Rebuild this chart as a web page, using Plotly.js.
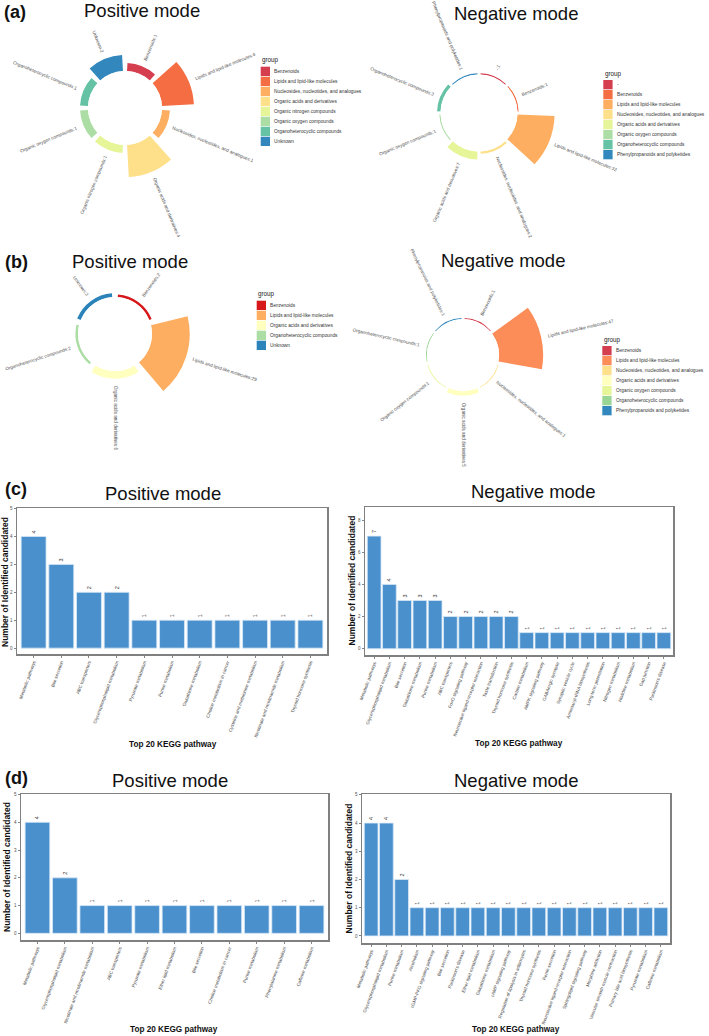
<!DOCTYPE html>
<html><head><meta charset="utf-8">
<script src="https://cdn.plot.ly/plotly-3.0.1.min.js"></script>
<style>html,body{margin:0;padding:0;background:#fff}#chart{width:709px;height:1036px}</style>
</head><body><div id="chart"></div>
<script>
// ---------------- DATA ----------------
const spectral8 = ["#D53E4F","#F46D43","#FDAE61","#FEE08B","#E6F598","#ABDDA4","#66C2A5","#3288BD"];

const aPosGroups = ["Benzenoids","Lipids and lipid-like molecules","Nucleosides, nucleotides, and analogues","Organic acids and derivatives","Organic nitrogen compounds","Organic oxygen compounds","Organoheterocyclic compounds","Unknown"];
const aPosCounts = [1,4,1,4,1,1,1,2];
const aPosColors = spectral8;

const aNegGroups = ["-","Benzenoids","Lipids and lipid-like molecules","Nucleosides, nucleotides, and analogues","Organic acids and derivatives","Organic oxygen compounds","Organoheterocyclic compounds","Phenylpropanoids and polyketides"];
const aNegCounts = [1,1,32,2,7,1,3,1];
const aNegColors = spectral8;

const bPosGroups = ["Benzenoids","Lipids and lipid-like molecules","Organic acids and derivatives","Organoheterocyclic compounds","Unknown"];
const bPosCounts = [2,29,6,2,3];
const bPosColors = ["#D7191C","#FDAE61","#FFFFBF","#ABDDA4","#2B83BA"];

const bNegGroups = ["Benzenoids","Lipids and lipid-like molecules","Nucleosides, nucleotides, and analogues","Organic acids and derivatives","Organic oxygen compounds","Organoheterocyclic compounds","Phenylpropanoids and polyketides"];
const bNegCounts = [1,47,1,5,1,1,1];
const bNegColors = ["#D53E4F","#FC8D59","#FEE08B","#FFFFBF","#E6F598","#99D594","#3288BD"];

const cPosPathways = ["Metabolic pathways","Bile secretion","ABC transporters","Glycerophospholipid metabolism","Pyruvate metabolism","Purine metabolism","Glutathione metabolism","Choline metabolism in cancer","Cysteine and methionine metabolism","Nicotinate and nicotinamide metabolism","Thyroid hormone synthesis"];
const cPosCounts = [4,3,2,2,1,1,1,1,1,1,1];

const cNegPathways = ["Metabolic pathways","Glycerophospholipid metabolism","Bile secretion","Glutathione metabolism","Purine metabolism","ABC transporters","FoxO signaling pathway","Neuroactive ligand-receptor interaction","Taste transduction","Thyroid hormone synthesis","Carbon metabolism","AMPK signaling pathway","GABAergic synapse","Synaptic vesicle cycle","Aminoacyl-tRNA biosynthesis","Long-term potentiation","Nitrogen metabolism","Histidine metabolism","Gap junction","Parkinson's disease"];
const cNegCounts = [7,4,3,3,3,2,2,2,2,2,1,1,1,1,1,1,1,1,1,1];

const dPosPathways = ["Metabolic pathways","Glycerophospholipid metabolism","Nicotinate and nicotinamide metabolism","ABC transporters","Pyruvate metabolism","Ether lipid metabolism","Bile secretion","Choline metabolism in cancer","Purine metabolism","Phenylalanine metabolism","Caffeine metabolism"];
const dPosCounts = [4,2,1,1,1,1,1,1,1,1,1];

const dNegPathways = ["Metabolic pathways","Glycerophospholipid metabolism","Purine metabolism","Alcoholism","cGMP-PKG signaling pathway","Bile secretion","Parkinson's disease","Ether lipid metabolism","Glutathione metabolism","cAMP signaling pathway","Regulation of lipolysis in adipocytes","Thyroid hormone synthesis","Renin secretion","Neuroactive ligand-receptor interaction","Sphingolipid signaling pathway","Morphine addiction","Vascular smooth muscle contraction","Primary bile acid biosynthesis","Pyruvate metabolism","Caffeine metabolism"];
const dNegCounts = [4,4,2,1,1,1,1,1,1,1,1,1,1,1,1,1,1,1,1,1];

// ---------------- BUILD ----------------
const W = 709, H = 1036;
const FONT = 'Liberation Sans, Arial, Helvetica, sans-serif';
const traces = [], shapes = [], annotations = [];
const layout = {width:W, height:H, margin:{l:0,r:0,t:0,b:0}, paper_bgcolor:'#ffffff', plot_bgcolor:'rgba(0,0,0,0)',
  showlegend:false, bargap:0.1, font:{family:FONT, color:'#222'}, hovermode:false};

const cv = document.createElement('canvas').getContext('2d');
function measure(t, size){ cv.font = size + 'px "Liberation Sans", Arial'; return cv.measureText(t).width; }
const X = p => p / W, Y = p => 1 - p / H;

function text(x, y, t, size, opts){
  annotations.push(Object.assign({xref:'paper', yref:'paper', x:X(x), y:Y(y), text:t, showarrow:false,
    xanchor:'center', yanchor:'middle', font:{size:size, color:'#111', family:FONT}}, opts || {}));
}

function addPolar(key, groups, counts, colors, g){
  const n = groups.length, R = g.rh + g.unit * g.vmax;
  layout[key] = {domain:{x:[X(g.cx - R), X(g.cx + R)], y:[Y(g.cy + R), Y(g.cy - R)]}, hole:g.rh / R,
    bgcolor:'rgba(0,0,0,0)',
    radialaxis:{visible:false, range:[0, g.vmax]},
    angularaxis:{visible:false, direction:'clockwise', rotation:90}};
  const theta = groups.map((_, i) => (i + 0.5) * 360 / n);
  traces.push({type:'barpolar', subplot:key, r:counts, theta:theta, width:groups.map(() => 360 / n * g.wfrac),
    marker:{color:colors, line:{width:0}}, hoverinfo:'skip', showlegend:false});
  groups.forEach((name, i) => {
    const label = name + ':' + counts[i];
    const a = theta[i], rad = a * Math.PI / 180;
    const w = measure(label, g.fs);
    const rc = g.rh + counts[i] * g.unit + g.gap + w / 2;
    annotations.push({xref:'paper', yref:'paper', x:X(g.cx + rc * Math.sin(rad)), y:Y(g.cy - rc * Math.cos(rad)),
      text:label, showarrow:false, textangle: a <= 180 ? a - 90 : a - 270, xanchor:'center', yanchor:'middle',
      font:{size:g.fs, color:'#4d4d4d', family:FONT}});
  });
}

function addLegend(x0, yTitle, yFirst, names, colors){
  text(x0 - 0.3, yTitle, 'group', 6.3, {xanchor:'left', font:{size:6.3, color:'#222', family:FONT}});
  names.forEach((nm, i) => {
    const y0 = yFirst + i * 10;
    shapes.push({type:'rect', xref:'paper', yref:'paper', x0:X(x0), x1:X(x0 + 9.3), y0:Y(y0), y1:Y(y0 + 9.3),
      fillcolor:colors[i], line:{width:0}});
    text(x0 + 12.3, y0 + 4.8, nm, 4.8, {xanchor:'left', borderpad:0, font:{size:4.8, color:'#333', family:FONT}});
  });
}

function addBars(idx, cats, counts, g){
  const ax = idx === 1 ? 'x' : 'x' + idx, ay = idx === 1 ? 'y' : 'y' + idx;
  const xk = idx === 1 ? 'xaxis' : 'xaxis' + idx, yk = idx === 1 ? 'yaxis' : 'yaxis' + idx;
  traces.push({type:'bar', x:cats, y:counts, xaxis:ax, yaxis:ay,
    marker:{color:'#4A90CD', line:{color:'#D6E7F6', width:0.8}},
    text:counts.map(String), textposition:'outside', textangle:-90, constraintext:'none', cliponaxis:false,
    textfont:{size:5.5, color:'#333', family:FONT}, hoverinfo:'skip', showlegend:false});
  const common = {showline:true, mirror:true, linecolor:'#808080', linewidth:1.5, showgrid:false, zeroline:false,
    ticks:'outside', ticklen:2, tickwidth:0.6, tickcolor:'#333', automargin:false, fixedrange:true};
  layout[xk] = Object.assign({}, common, {domain:[X(g.x0), X(g.x1)], anchor:ay, type:'category',
    range:[-0.6, cats.length - 0.4], tickmode:'linear', tick0:0, dtick:1, tickangle:-70,
    tickfont:{size:4.6, color:'#4d4d4d', family:FONT}});
  layout[yk] = Object.assign({}, common, {domain:[Y(g.y1), Y(g.y0)], anchor:ax, range:g.yr, tickmode:'linear',
    tick0:0, dtick:g.dtick, tickfont:{size:4.5, color:'#4d4d4d', family:FONT}});
}

// Polar (a) and (b)
addPolar('polar',  aPosGroups, aPosCounts, aPosColors, {cx:125, cy:108, rh:37, unit:8, vmax:5, wfrac:0.86, fs:4.6, gap:7});
addPolar('polar2', aNegGroups, aNegCounts, aNegColors, {cx:479, cy:113, rh:38.5, unit:1.16, vmax:40, wfrac:0.9, fs:4.6, gap:7});
addPolar('polar3', bPosGroups, bPosCounts, bPosColors, {cx:115, cy:334, rh:37, unit:1.3, vmax:35, wfrac:0.88, fs:4.6, gap:7});
addPolar('polar4', bNegGroups, bNegCounts, bNegColors, {cx:463, cy:355, rh:36, unit:0.94, vmax:52, wfrac:0.9, fs:4.6, gap:7});

addLegend(260.7, 59.5, 66.7, aPosGroups, aPosColors);
addLegend(603.3, 74, 80, aNegGroups, aNegColors);
addLegend(256.7, 294, 300.7, bPosGroups, bPosColors);
addLegend(602.3, 340, 346, bNegGroups, bNegColors);

// Bar charts (c) and (d)
addBars(1, cPosPathways, cPosCounts, {x0:17, x1:327, y0:508, y1:654, yr:[-0.21, 5.02], dtick:1});
addBars(2, cNegPathways, cNegCounts, {x0:365, x1:673, y0:507, y1:655, yr:[-0.39, 8.81], dtick:2});
addBars(3, dPosPathways, dPosCounts, {x0:21, x1:328, y0:794, y1:940, yr:[-0.24, 5.02], dtick:1});
addBars(4, dNegPathways, dNegCounts, {x0:362, x1:670, y0:794, y1:943, yr:[-0.25, 5.03], dtick:1});

// Panel letters and titles
const bold = (s, c) => ({font:{size:s, color:c || '#111', family:FONT, weight:'bold'}});
text(15, 12, '(a)', 18, bold(18));
text(16, 262, '(b)', 18, bold(18));
text(15.5, 489, '(c)', 18, bold(18));
text(16.5, 778, '(d)', 18, bold(18));
text(142, 10.5, 'Positive mode', 18.5, {font:{size:18.5, color:'#111', family:FONT}});
text(516, 13.5, 'Negative mode', 18.5, {font:{size:18.5, color:'#111', family:FONT}});
text(129.5, 261.5, 'Positive mode', 18.5, {font:{size:18.5, color:'#111', family:FONT}});
text(503, 260.5, 'Negative mode', 18.5, {font:{size:18.5, color:'#111', family:FONT}});
text(163, 493.5, 'Positive mode', 18.5, {font:{size:18.5, color:'#111', family:FONT}});
text(532.5, 491.5, 'Negative mode', 18.5, {font:{size:18.5, color:'#111', family:FONT}});
text(170, 780, 'Positive mode', 18.5, {font:{size:18.5, color:'#111', family:FONT}});
text(516, 780, 'Negative mode', 18.5, {font:{size:18.5, color:'#111', family:FONT}});

// Axis titles
[[172.5, 744], [519, 743], [174, 1029.5], [516, 1029.5]].forEach(p => text(p[0], p[1], 'Top 20 KEGG pathway', 8.2, bold(8.2)));
[[5, 582], [351.5, 581], [7, 867], [348.5, 869]].forEach(p => text(p[0], p[1], 'Number of Identified candidated', 8.5, Object.assign({textangle:-90}, bold(8.5))));

layout.shapes = shapes;
layout.annotations = annotations;
Plotly.newPlot('chart', traces, layout, {staticPlot:true, displayModeBar:false});
</script>
</body></html>
